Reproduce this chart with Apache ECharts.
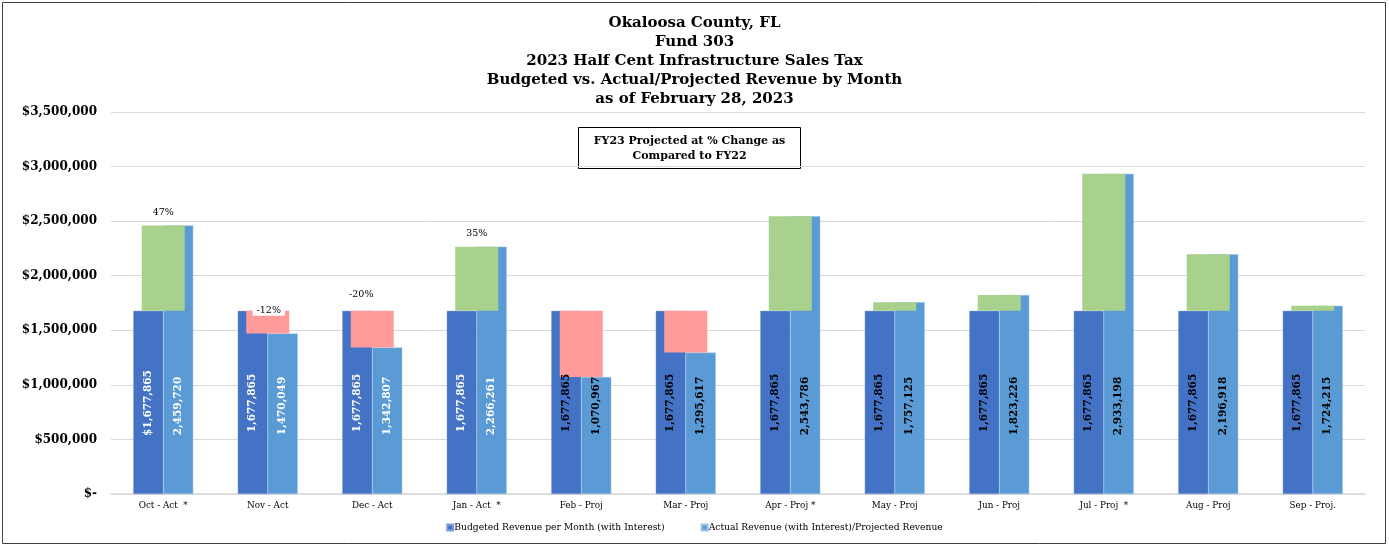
<!DOCTYPE html>
<html>
<head>
<meta charset="utf-8">
<script src="https://cdn.jsdelivr.net/npm/echarts@6/dist/echarts.min.js"></script>
<style>
html,body{margin:0;padding:0;background:#fff;}
#chart{width:1389px;height:547px;}
</style>
</head>
<body>
<div id="chart"></div>
<script>
var categories = ['Oct - Act  *','Nov - Act','Dec - Act','Jan - Act  *','Feb - Proj','Mar - Proj','Apr - Proj *','May - Proj','Jun - Proj','Jul - Proj  *','Aug - Proj','Sep - Proj.'];
var budgeted = [1677865,1677865,1677865,1677865,1677865,1677865,1677865,1677865,1677865,1677865,1677865,1677865];
var actual = [2459720,1470049,1342807,2266261,1070967,1295617,2543786,1757125,1823226,2933198,2196918,1724215];
var yTicks = [0,500000,1000000,1500000,2000000,2500000,3000000,3500000];

var SERIF = '"DejaVu Serif", "Liberation Serif", Georgia, serif';
function fmt(n){ return n.toString().replace(/\B(?=(\d{3})+(?!\d))/g, ','); }
var isAct = categories.map(function(c){ return c.indexOf('Act') >= 0; });

var baseData = budgeted.map(function(b,i){ return Math.min(b, actual[i]); });
var pctLabel = [
  {position:'top', distance:8, offset:[0,0]},
  {position:'top', distance:-5, offset:[1,0], backgroundColor:'#fff', padding:[0,4]},
  {position:'top', distance:11, offset:[-11,0]},
  {position:'top', distance:8, offset:[0,0]}
];
var deltaData = budgeted.map(function(b,i){
  var a = actual[i];
  var d = {value: Math.abs(a-b), itemStyle:{color: a >= b ? '#A9D18E' : '#FF9B9B'}};
  if (isAct[i]) {
    var pct = Math.round((a-b)/b*100);
    var L = pctLabel[i];
    d.label = Object.assign({show:true, formatter: pct + '%', color:'#000', fontFamily:SERIF, fontSize:9.5}, L);
  }
  return d;
});

function valLabelItems(arr, dollar){
  return arr.map(function(v,i){
    return {value:v, label:{color: isAct[i] ? '#fff' : '#000', formatter: (dollar && i===0 ? '$' : '') + fmt(v)}};
  });
}
var valLabel = {show:true, position:'insideBottom', rotate:90, align:'center', verticalAlign:'middle',
  fontFamily:SERIF, fontWeight:'bold', fontSize:10.5};

var chart = echarts.init(document.getElementById('chart'), null, {renderer:'canvas'});
chart.setOption({
  animation:false,
  backgroundColor:'#fff',
  title:{
    text:'Okaloosa County, FL\nFund 303\n2023 Half Cent Infrastructure Sales Tax\nBudgeted vs. Actual/Projected Revenue by Month\nas of February 28, 2023',
    left:'center', top:9,
    textStyle:{fontFamily:SERIF, fontWeight:'bold', fontSize:15, lineHeight:19, color:'#000'}
  },
  legend:{
    bottom:10, left:'center', itemWidth:6, itemHeight:6, itemGap:36,
    icon:'rect',
    textStyle:{fontFamily:SERIF, fontSize:9.2, color:'#000', padding:[0,0,0,-4]},
    data:['Budgeted Revenue per Month (with Interest)','Actual Revenue (with Interest)/Projected Revenue']
  },
  grid:{left:111, right:24, top:112, bottom:53},
  xAxis:[
    {type:'category', data:categories,
     axisLine:{lineStyle:{color:'#d9d9d9', width:1.5}}, axisTick:{show:false},
     axisLabel:{fontFamily:SERIF, fontSize:8.8, color:'#000', margin:7}},
    {type:'category', data:categories, show:false},
    {type:'category', data:categories, show:false}
  ],
  yAxis:{type:'value', min:yTicks[0], max:yTicks[yTicks.length-1], interval:500000,
    axisLine:{show:false}, axisTick:{show:false},
    splitLine:{lineStyle:{color:'#d9d9d9', width:1}},
    axisLabel:{fontFamily:SERIF, fontSize:12, fontWeight:'bold', color:'#000', margin:14,
      formatter:function(v){ return v===0 ? '$-' : '$' + fmt(v); }}
  },
  series:[
    {name:'Budgeted Revenue per Month (with Interest)', type:'bar', xAxisIndex:0, barWidth:30, barGap:'0%',
     itemStyle:{color:'#4472C4', borderColor:'#7f9fd8', borderWidth:0.5},
     data:budgeted, z:2},
    {name:'Actual Revenue (with Interest)/Projected Revenue', type:'bar', xAxisIndex:0, barWidth:30,
     itemStyle:{color:'#5B9BD5', borderColor:'#9cc3e6', borderWidth:0.5},
     data:actual, z:2},
    {name:'base', type:'bar', xAxisIndex:1, stack:'ov', barWidth:43, itemStyle:{color:'rgba(0,0,0,0)'},
     data:baseData, z:3, silent:true},
    {name:'delta', type:'bar', xAxisIndex:1, stack:'ov', barWidth:43, data:deltaData, z:3, silent:true},
    {name:'budgetLabels', type:'bar', xAxisIndex:2, barWidth:30, barGap:'0%', z:5, silent:true,
     itemStyle:{color:'rgba(0,0,0,0)'},
     label:Object.assign({distance:91}, valLabel), data:valLabelItems(budgeted, true)},
    {name:'actualLabels', type:'bar', xAxisIndex:2, barWidth:30, z:5, silent:true,
     itemStyle:{color:'rgba(0,0,0,0)'},
     label:Object.assign({distance:88}, valLabel), data:valLabelItems(actual, false)}
  ],
  graphic:[
    {type:'rect', shape:{x:2.5, y:2.5, width:1383, height:541}, style:{fill:'none', stroke:'#404040', lineWidth:1}, z:100},
    {type:'group', left:578, top:127, z:100, children:[
      {type:'rect', shape:{x:0, y:0, width:222, height:41}, style:{fill:'#fff', stroke:'#000', lineWidth:1}},
      {type:'text', x:111, y:21, style:{text:'FY23 Projected at % Change as\nCompared to FY22', fill:'#000',
        font:'bold 11px ' + SERIF, textAlign:'center', textVerticalAlign:'middle', lineHeight:15}}
    ]}
  ]
});
</script>
</body>
</html>
